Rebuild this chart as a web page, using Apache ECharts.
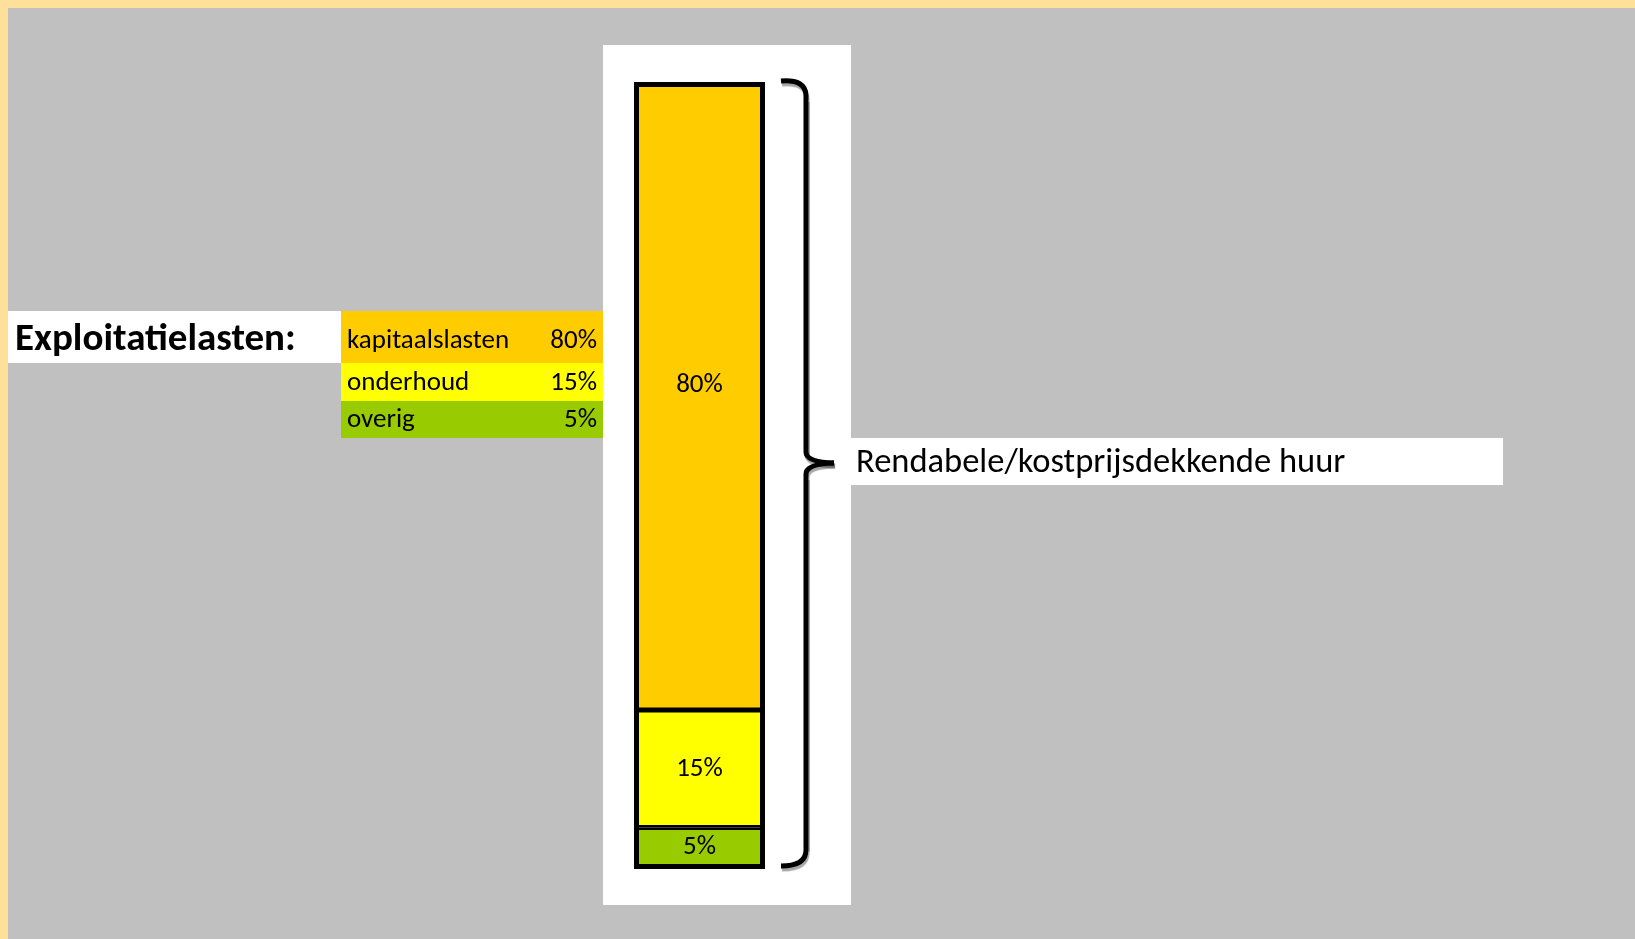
<!DOCTYPE html>
<html>
<head>
<meta charset="utf-8">
<script src="https://cdn.jsdelivr.net/npm/echarts@6/dist/echarts.min.js"></script>
<style>
  html, body { margin: 0; padding: 0; background: #C0C0C0; }
  #chart { width: 1635px; height: 939px; }
</style>
</head>
<body>
<div id="chart"></div>
<script>
// ---- data ----
const categories = ['kapitaalslasten', 'onderhoud', 'overig'];
const values = [80, 15, 5];
const colors = ['#FFCC00', '#FFFF00', '#99CC00'];
const headerLabel = 'Exploitatielasten:';
const totalLabel = 'Rendabele/kostprijsdekkende huur';

// ---- layout / style ----
const FONT = "Carlito, sans-serif";
const rowTops = [311, 363, 401];
const rowHeights = [52, 38, 37];
const rowTextY = [341, 383, 420];
const labelOffsets = [[0, -12], [0, 0], [0, 0]];

const chart = echarts.init(document.getElementById('chart'), null, { renderer: 'canvas' });

// stack from bottom: last category first
const order = [2, 1, 0];
const series = order.map(i => ({
  name: categories[i],
  type: 'bar',
  stack: 'total',
  barWidth: '100%',
  data: [values[i]],
  itemStyle: { color: colors[i], borderColor: '#000', borderWidth: 2.5 },
  label: {
    show: true,
    position: 'inside',
    formatter: '{c}%',
    color: '#000',
    fontFamily: FONT,
    fontSize: 27,
    offset: labelOffsets[i]
  },
  emphasis: { disabled: true },
  z: 5
}));

const bracketStyle = { stroke: '#000', lineWidth: 5, fill: null, shadowColor: 'rgba(0,0,0,0.35)', shadowOffsetX: 1, shadowOffsetY: 3, shadowBlur: 1 };

const graphics = [
  // yellow frame
  { type: 'rect', shape: { x: 0, y: 0, width: 1635, height: 8 }, style: { fill: '#FFE09B' }, z: -1 },
  { type: 'rect', shape: { x: 0, y: 0, width: 8, height: 939 }, style: { fill: '#FFE09B' }, z: -1 },
  // white panel behind bar
  { type: 'rect', shape: { x: 603, y: 45, width: 248, height: 860 }, style: { fill: '#FFFFFF' }, z: -1 },
  // header box
  { type: 'rect', shape: { x: 8, y: 311, width: 333, height: 52 }, style: { fill: '#FFFFFF' }, z: -1 },
  { type: 'text', x: 15, y: 340, style: { text: headerLabel, fill: '#000', font: "bold 39px " + FONT, textVerticalAlign: 'middle', textAlign: 'left' }, z: 1 },
  // total label box
  { type: 'rect', shape: { x: 851, y: 438, width: 652, height: 47 }, style: { fill: '#FFFFFF' }, z: -1 },
  { type: 'text', x: 856, y: 463, style: { text: totalLabel, fill: '#000', font: "34.5px " + FONT, textVerticalAlign: 'middle', textAlign: 'left' }, z: 1 },
  // bracket pieces
  { type: 'bezierCurve', shape: { x1: 781, y1: 81, cpx1: 806, cpy1: 79, x2: 806, y2: 96 }, style: bracketStyle, z: 1 },
  { type: 'line', shape: { x1: 806, y1: 96, x2: 806, y2: 452 }, style: bracketStyle, z: 1 },
  { type: 'bezierCurve', shape: { x1: 806, y1: 452, cpx1: 806, cpy1: 462, x2: 834, y2: 463 }, style: bracketStyle, z: 1 },
  { type: 'bezierCurve', shape: { x1: 834, y1: 463, cpx1: 806, cpy1: 464, x2: 806, y2: 474 }, style: bracketStyle, z: 1 },
  { type: 'line', shape: { x1: 806, y1: 474, x2: 806, y2: 850 }, style: bracketStyle, z: 1 },
  { type: 'bezierCurve', shape: { x1: 806, y1: 850, cpx1: 806, cpy1: 866, x2: 781, y2: 866 }, style: bracketStyle, z: 1 }
];

categories.forEach((c, i) => {
  graphics.push({ type: 'rect', shape: { x: 341, y: rowTops[i], width: 262, height: rowHeights[i] }, style: { fill: colors[i] }, z: -1 });
  graphics.push({ type: 'text', x: 347, y: rowTextY[i], style: { text: c, fill: '#000', font: "27px " + FONT, textVerticalAlign: 'middle', textAlign: 'left' }, z: 1 });
  graphics.push({ type: 'text', x: 597, y: rowTextY[i], style: { text: values[i] + '%', fill: '#000', font: "27px " + FONT, textVerticalAlign: 'middle', textAlign: 'right' }, z: 1 });
});

chart.setOption({
  backgroundColor: '#C0C0C0',
  animation: false,
  grid: { left: 636.5, width: 126, top: 84.5, bottom: 72.5, containLabel: false, z: 3,
          show: true, backgroundColor: 'transparent', borderColor: '#000', borderWidth: 5 },
  xAxis: { type: 'category', data: [''], show: false },
  yAxis: { type: 'value', min: 0, max: 100, show: false },
  series: series,
  graphic: graphics
});
</script>
</body>
</html>
